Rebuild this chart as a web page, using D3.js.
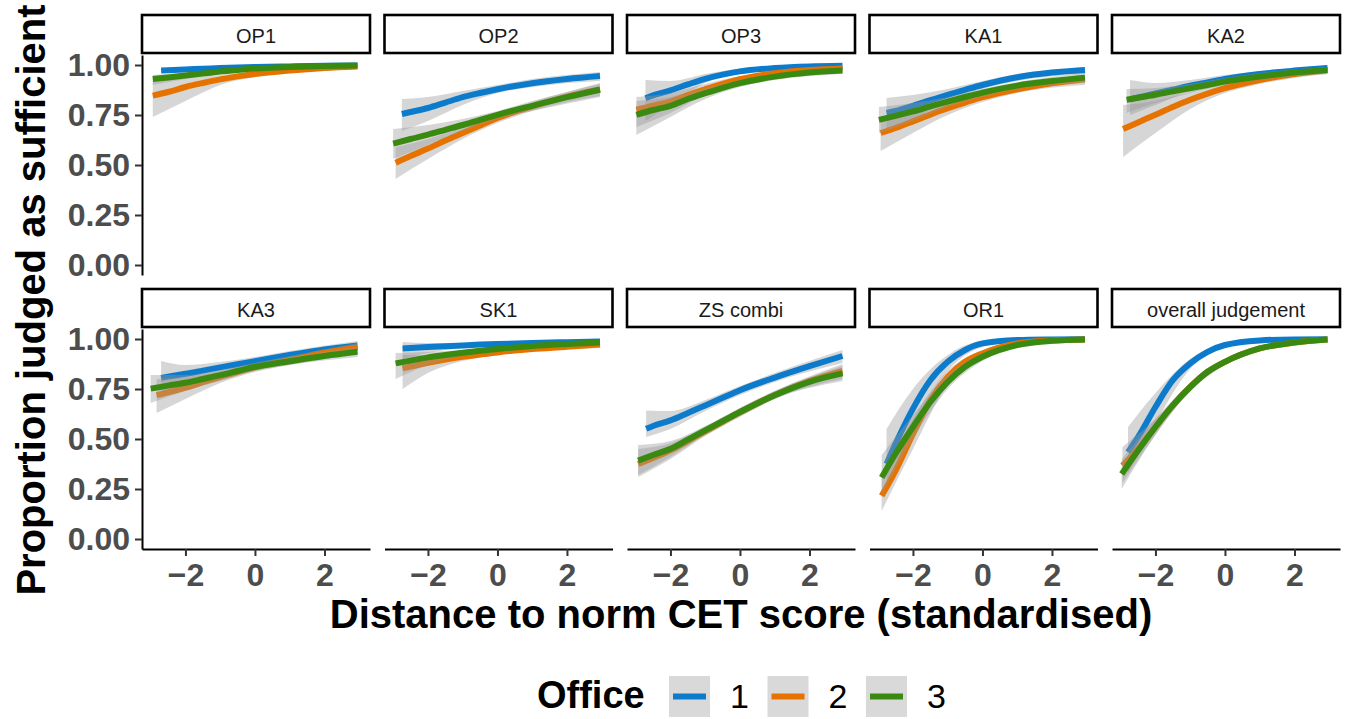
<!DOCTYPE html>
<html>
<head>
<meta charset="utf-8">
<script src="https://cdn.jsdelivr.net/npm/d3@7"></script>
<style>
  body { margin: 0; background: #fff; }
  text { font-family: "Liberation Sans", Arial, sans-serif; }
</style>
</head>
<body>
<div id="chart"></div>
<script>
// ---------------------------- DATA ----------------------------//
const panelNames = ["OP1", "OP2", "OP3", "KA1", "KA2", "KA3", "SK1", "ZS combi", "OR1", "overall judgement"];
const officeLabels = ["1", "2", "3"];
const yTicks = [0, 0.25, 0.5, 0.75, 1];
const xTicks = [-2, 0, 2];

// first x of each fitted curve, per panel: [office 1, office 2, office 3]
const xStart = [
  [-2.70, -2.94, -2.94], [-2.75, -2.93, -3.00], [-2.72, -2.98, -2.98], [-2.76, -2.93, -2.98],
  [-2.73, -2.93, -2.83], [-2.70, -2.83, -3.00], [-2.73, -2.73, -2.93], [-2.70, -2.93, -2.93],
  [-2.76, -2.90, -2.90], [-2.79, -2.95, -2.97]
];
const xEnd = 2.95;

// fitted proportion at: start, -2.5, -2, -1.5, -1, -0.5, 0, 1, 2, end
const fitX = [-2.5, -2, -1.5, -1, -0.5, 0, 1, 2];
const fitP = [
  [[0.972,0.974,0.978,0.981,0.985,0.988,0.990,0.993,0.996,0.997],
   [0.847,0.865,0.890,0.910,0.928,0.943,0.955,0.972,0.985,0.993],
   [0.930,0.938,0.948,0.957,0.967,0.975,0.982,0.990,0.995,0.997]],
  [[0.755,0.765,0.785,0.812,0.839,0.860,0.879,0.909,0.930,0.945],
   [0.511,0.545,0.582,0.622,0.660,0.698,0.735,0.793,0.842,0.879],
   [0.607,0.630,0.652,0.676,0.700,0.726,0.751,0.796,0.839,0.876]],
  [[0.834,0.848,0.873,0.903,0.931,0.952,0.968,0.985,0.993,0.996],
   [0.776,0.797,0.817,0.850,0.879,0.906,0.929,0.959,0.975,0.983],
   [0.751,0.775,0.796,0.830,0.859,0.886,0.909,0.942,0.962,0.972]],
  [[0.760,0.770,0.796,0.824,0.851,0.876,0.900,0.939,0.962,0.975],
   [0.660,0.685,0.718,0.752,0.784,0.812,0.839,0.879,0.909,0.929],
   [0.726,0.746,0.768,0.793,0.817,0.840,0.862,0.897,0.920,0.937]],
  [[0.829,0.838,0.858,0.877,0.896,0.913,0.930,0.955,0.972,0.985],
   [0.680,0.713,0.751,0.790,0.826,0.857,0.884,0.925,0.955,0.975],
   [0.826,0.836,0.851,0.868,0.884,0.900,0.917,0.942,0.962,0.975]],
  [[0.805,0.812,0.826,0.842,0.858,0.874,0.889,0.920,0.948,0.968],
   [0.719,0.733,0.757,0.784,0.811,0.835,0.858,0.894,0.931,0.958],
   [0.752,0.767,0.781,0.800,0.819,0.840,0.861,0.889,0.915,0.936]],
  [[0.953,0.955,0.960,0.964,0.968,0.972,0.975,0.980,0.984,0.987],
   [0.853,0.862,0.881,0.897,0.911,0.923,0.933,0.950,0.961,0.973],
   [0.878,0.892,0.908,0.920,0.931,0.941,0.950,0.965,0.975,0.983]],
  [[0.551,0.565,0.593,0.630,0.668,0.706,0.744,0.807,0.864,0.915],
   [0.375,0.405,0.443,0.490,0.538,0.586,0.633,0.720,0.790,0.841],
   [0.392,0.420,0.451,0.497,0.543,0.589,0.635,0.719,0.786,0.828]],
  [[0.375,0.476,0.652,0.794,0.886,0.945,0.978,0.995,0.998,0.999],
   [0.216,0.342,0.526,0.693,0.810,0.886,0.928,0.978,0.993,0.998],
   [0.308,0.426,0.560,0.685,0.786,0.861,0.911,0.970,0.991,0.998]],
  [[0.434,0.509,0.660,0.794,0.878,0.936,0.970,0.993,0.998,0.999],
   [0.367,0.450,0.560,0.668,0.760,0.836,0.886,0.953,0.982,0.997],
   [0.325,0.442,0.560,0.668,0.760,0.836,0.886,0.953,0.982,0.997]]
];

// confidence band at: start, -2, -1, 0, 1, end
const bandX = [-2, -1, 0, 1];
const bandLo = [
  [[0.960,0.970,0.980,0.985,0.990,0.994],[0.740,0.820,0.900,0.940,0.962,0.985],[0.900,0.930,0.955,0.975,0.985,0.993]],
  [[0.67,0.72,0.80,0.86,0.89,0.92],[0.43,0.53,0.63,0.71,0.77,0.845],[0.53,0.60,0.67,0.73,0.77,0.84]],
  [[0.72,0.80,0.91,0.96,0.982,0.99],[0.69,0.76,0.85,0.91,0.945,0.97],[0.65,0.74,0.83,0.89,0.925,0.955]],
  [[0.68,0.73,0.82,0.88,0.92,0.955],[0.57,0.66,0.75,0.815,0.86,0.90],[0.66,0.72,0.79,0.84,0.88,0.91]],
  [[0.75,0.80,0.87,0.91,0.94,0.97],[0.54,0.66,0.78,0.86,0.905,0.955],[0.76,0.81,0.86,0.90,0.925,0.955]],
  [[0.72,0.77,0.83,0.87,0.90,0.94],[0.63,0.70,0.78,0.835,0.87,0.925],[0.68,0.74,0.79,0.84,0.87,0.91]],
  [[0.90,0.93,0.955,0.965,0.972,0.975],[0.75,0.83,0.89,0.92,0.94,0.955],[0.80,0.87,0.915,0.94,0.955,0.97]],
  [[0.51,0.55,0.64,0.72,0.785,0.88],[0.31,0.40,0.515,0.61,0.70,0.80],[0.32,0.41,0.52,0.615,0.70,0.79]],
  [[0.25,0.55,0.84,0.96,0.99,0.997],[0.14,0.45,0.77,0.91,0.97,0.993],[0.22,0.50,0.75,0.89,0.96,0.99]],
  [[0.33,0.58,0.85,0.96,0.99,0.997],[0.28,0.52,0.74,0.87,0.945,0.99],[0.25,0.52,0.74,0.87,0.945,0.99]]
];
const bandHi = [
  [[0.985,0.985,0.990,0.994,0.996,0.999],[0.920,0.935,0.950,0.967,0.980,0.997],[0.950,0.962,0.976,0.988,0.994,0.999]],
  [[0.83,0.84,0.87,0.90,0.93,0.965],[0.59,0.63,0.69,0.76,0.815,0.91],[0.68,0.70,0.73,0.77,0.82,0.905]],
  [[0.925,0.92,0.955,0.983,0.995,0.999],[0.84,0.86,0.905,0.945,0.97,0.992],[0.82,0.84,0.885,0.925,0.955,0.985]],
  [[0.835,0.85,0.88,0.92,0.955,0.99],[0.74,0.77,0.815,0.86,0.90,0.95],[0.79,0.81,0.84,0.88,0.915,0.96]],
  [[0.925,0.91,0.925,0.95,0.97,0.997],[0.80,0.82,0.865,0.91,0.945,0.99],[0.88,0.885,0.905,0.935,0.96,0.99]],
  [[0.89,0.87,0.885,0.91,0.94,0.99],[0.80,0.81,0.84,0.88,0.915,0.98],[0.82,0.82,0.845,0.88,0.91,0.96]],
  [[0.985,0.98,0.98,0.984,0.988,0.995],[0.92,0.92,0.93,0.945,0.96,0.987],[0.93,0.935,0.945,0.96,0.975,0.993]],
  [[0.643,0.64,0.695,0.765,0.83,0.945],[0.45,0.48,0.56,0.655,0.74,0.875],[0.47,0.49,0.565,0.655,0.74,0.865]],
  [[0.55,0.75,0.92,0.99,0.999,1.0],[0.30,0.60,0.84,0.945,0.985,1.0],[0.42,0.62,0.82,0.93,0.978,1.0]],
  [[0.56,0.73,0.90,0.98,0.997,1.0],[0.46,0.60,0.78,0.90,0.96,0.999],[0.40,0.60,0.78,0.90,0.96,0.999]]
];

// --------------------------- LAYOUT ---------------------------//
const width = 1345, height = 719;
const officeColours = ["#0C7BCB", "#E67300", "#3A8A12"];
const panelW = 228, panelH = 220, stripH = 38;
const colLeft = d3.scaleLinear().domain([0, 1]).range([142, 384.5]);
const stripTop = [15, 289];

const svg = d3.select("#chart").append("svg")
  .attr("width", width)
  .attr("height", height);

const x = d3.scaleLinear().domain([-3.25, 3.31]).range([0, panelW]);
const y = d3.scaleLinear().domain([-0.05, 1.05]).range([panelH, 0]);

const line = d3.line()
  .x(d => x(d[0]))
  .y(d => y(d[1]))
  .curve(d3.curveMonotoneX);

const band = d3.area()
  .x(d => x(d[0]))
  .y0(d => y(d[1]))
  .y1(d => y(d[2]))
  .curve(d3.curveMonotoneX);

//-------------------------- PANELS -----------------------------//
panelNames.forEach(function (name, p) {
  const col = p % 5, row = Math.floor(p / 5);
  const left = colLeft(col);
  const top = stripTop[row] + 40;

  // strip
  svg.append("rect")
    .attr("x", left).attr("y", stripTop[row])
    .attr("width", panelW).attr("height", stripH)
    .attr("fill", "#fff").attr("stroke", "#000").attr("stroke-width", 2.6);
  svg.append("text")
    .attr("x", left + panelW / 2).attr("y", stripTop[row] + 28)
    .attr("text-anchor", "middle")
    .style("font-size", "20px").style("fill", "#1A1A1A")
    .text(name);

  const g = svg.append("g").attr("transform", "translate(" + left + "," + top + ")");

  officeLabels.forEach(function (o, k) {
    const fx = [xStart[p][k]].concat(fitX, [xEnd]);
    const bx = [xStart[p][k]].concat(bandX, [xEnd]);
    const bandData = bx.map((v, i) => [v, bandLo[p][k][i], bandHi[p][k][i]]);
    const lineData = fx.map((v, i) => [v, fitP[p][k][i]]);

    g.append("path")
      .attr("d", band(bandData))
      .attr("fill", "#999999")
      .attr("fill-opacity", 0.4);
    g.append("path")
      .attr("d", line(lineData))
      .attr("fill", "none")
      .attr("stroke", officeColours[k])
      .attr("stroke-width", 6);
  });

  if (col === 0) {
    const ya = g.append("g")
      .call(d3.axisLeft(y).tickValues(yTicks).tickFormat(d3.format(".2f"))
        .tickSize(7).tickPadding(5).tickSizeOuter(0));
    ya.select(".domain").attr("stroke", "#000").attr("stroke-width", 2);
    ya.selectAll(".tick line").attr("stroke", "#333").attr("stroke-width", 2);
    ya.selectAll(".tick text")
      .style("font-size", "32px").style("font-weight", "bold")
      .style("font-family", "'Liberation Sans', Arial, sans-serif")
      .attr("fill", "#4D4D4D");
  }
  if (row === 1) {
    const xa = g.append("g")
      .attr("transform", "translate(0," + panelH + ")")
      .call(d3.axisBottom(x).tickValues(xTicks).tickFormat(d3.format("d"))
        .tickSize(7).tickPadding(7).tickSizeOuter(0));
    xa.select(".domain").attr("stroke", "#000").attr("stroke-width", 2);
    xa.selectAll(".tick line").attr("stroke", "#333").attr("stroke-width", 2);
    xa.selectAll(".tick text")
      .style("font-size", "32px").style("font-weight", "bold")
      .style("font-family", "'Liberation Sans', Arial, sans-serif")
      .attr("fill", "#4D4D4D");
  }
});

//-------------------------- TITLES -----------------------------//
svg.append("text")
  .attr("x", 741).attr("y", 628)
  .attr("text-anchor", "middle")
  .style("font-size", "40px").style("font-weight", "bold")
  .text("Distance to norm CET score (standardised)");

svg.append("text")
  .attr("transform", "translate(45,300) rotate(-90)")
  .attr("text-anchor", "middle")
  .style("font-size", "40px").style("font-weight", "bold")
  .text("Proportion judged as sufficient");

//-------------------------- LEGEND -----------------------------//
svg.append("text")
  .attr("x", 537).attr("y", 708)
  .style("font-size", "38px").style("font-weight", "bold")
  .text("Office");

const legendX = d3.scaleBand().domain(officeLabels).range([669, 669 + 3 * 98.5]);
const key = svg.selectAll(".key").data(officeLabels).enter().append("g")
  .attr("class", "key")
  .attr("transform", d => "translate(" + legendX(d) + ",676)");
key.append("rect")
  .attr("width", 41).attr("height", 41)
  .attr("fill", "#D9D9D9");
key.append("line")
  .attr("x1", 4).attr("x2", 37).attr("y1", 20.5).attr("y2", 20.5)
  .attr("stroke", (d, i) => officeColours[i]).attr("stroke-width", 6);
key.append("text")
  .attr("x", 61).attr("y", 32)
  .style("font-size", "34px")
  .text(d => d);
</script>
</body>
</html>
